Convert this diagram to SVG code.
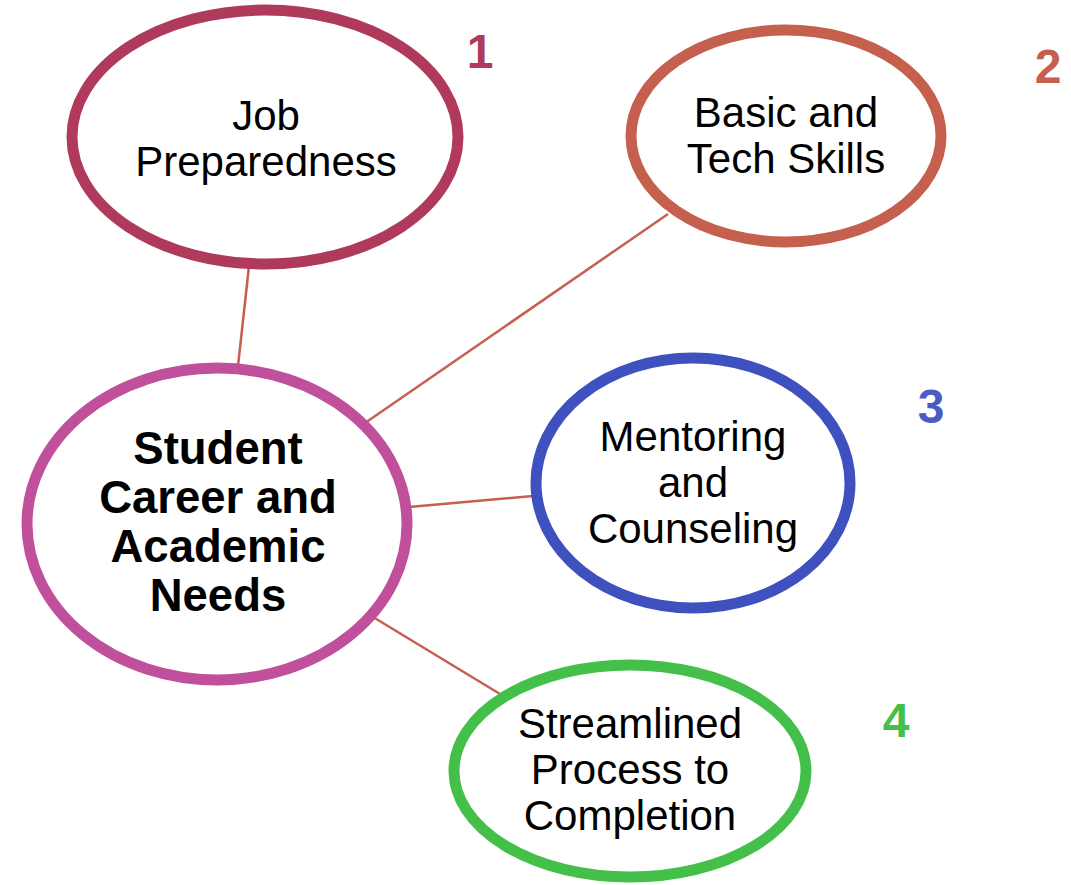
<svg xmlns="http://www.w3.org/2000/svg" width="1071" height="885" viewBox="0 0 1071 885">
  <style>
    .node { fill: #ffffff; stroke-width: 11; }
    .label { font-family: "Liberation Sans", Arial, sans-serif; font-size: 42px; fill: #000000; text-anchor: middle; }
    .hub { font-weight: bold; font-size: 45.5px; }
    .num { font-family: "Liberation Sans", Arial, sans-serif; font-size: 48px; font-weight: bold; text-anchor: middle; }
    .link { stroke: #c5604e; stroke-width: 2.5; fill: none; }
  </style>
  <rect width="1071" height="885" fill="#ffffff"/>

  <!-- spokes from the hub to each need -->
  <g id="connectors">
    <line class="link" x1="249" y1="266" x2="238" y2="366"/>
    <line class="link" x1="668" y1="214" x2="365" y2="423"/>
    <line class="link" x1="409" y1="507" x2="533" y2="496"/>
    <line class="link" x1="373" y1="617" x2="500" y2="694"/>
  </g>

  <g id="job-preparedness">
    <ellipse class="node" cx="265" cy="137" rx="193" ry="127" stroke="#b03a5b"/>
    <text class="label" x="266" y="130">Job</text>
    <text class="label" x="266" y="176">Preparedness</text>
  </g>

  <g id="basic-tech-skills">
    <ellipse class="node" cx="786" cy="136" rx="155" ry="106" stroke="#c5604e"/>
    <text class="label" x="786" y="127">Basic and</text>
    <text class="label" x="786" y="173">Tech Skills</text>
  </g>

  <g id="student-needs">
    <ellipse class="node" cx="217" cy="524" rx="190" ry="156" stroke="#c04f9c"/>
    <text class="label hub" x="218" y="464">Student</text>
    <text class="label hub" x="218" y="513">Career and</text>
    <text class="label hub" x="218" y="562">Academic</text>
    <text class="label hub" x="218" y="611">Needs</text>
  </g>

  <g id="mentoring-counseling">
    <ellipse class="node" cx="693" cy="483" rx="157" ry="125" stroke="#3f51bf"/>
    <text class="label" x="693" y="451">Mentoring</text>
    <text class="label" x="693" y="497">and</text>
    <text class="label" x="693" y="543">Counseling</text>
  </g>

  <g id="streamlined-process">
    <ellipse class="node" cx="630" cy="771" rx="176" ry="106" stroke="#44c04a"/>
    <text class="label" x="630" y="738">Streamlined</text>
    <text class="label" x="630" y="784">Process to</text>
    <text class="label" x="630" y="830">Completion</text>
  </g>

  <!-- numbering -->
  <g id="numbers">
    <text class="num" x="480" y="68" fill="#b03a5b">1</text>
    <text class="num" x="1048" y="83" fill="#c5604e">2</text>
    <text class="num" x="931" y="423" fill="#4a5bc4">3</text>
    <text class="num" x="896" y="737" fill="#44c04a">4</text>
  </g>
</svg>
